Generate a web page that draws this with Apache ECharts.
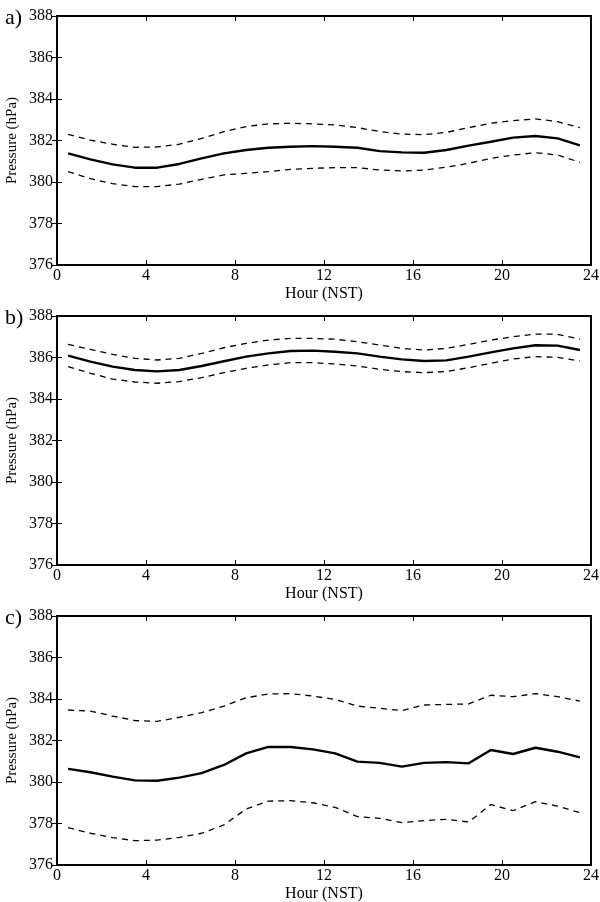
<!DOCTYPE html>
<html>
<head>
<meta charset="utf-8">
<script src="https://cdn.jsdelivr.net/npm/echarts@6/dist/echarts.min.js"></script>
<style>html,body{margin:0;padding:0;background:#fff}#c{width:600px;height:902px}</style>
</head>
<body>
<div id="c"></div>
<script>
var hours = [0.5,1.5,2.5,3.5,4.5,5.5,6.5,7.5,8.5,9.5,10.5,11.5,12.5,13.5,14.5,15.5,16.5,17.5,18.5,19.5,20.5,21.5,22.5,23.5];
var xTicks = [0,4,8,12,16,20,24];
var yTicks = [376,378,380,382,384,386,388];
var panelLabels = ['a)','b)','c)'];

var meanA  = [381.38,381.09,380.85,380.69,380.69,380.87,381.14,381.38,381.54,381.65,381.70,381.73,381.70,381.65,381.49,381.43,381.41,381.54,381.75,381.94,382.14,382.22,382.10,381.77];
var upperA = [382.30,382.02,381.82,381.67,381.69,381.82,382.10,382.43,382.67,382.80,382.83,382.80,382.75,382.62,382.43,382.31,382.28,382.39,382.62,382.83,382.96,383.04,382.91,382.62];
var lowerA = [380.50,380.16,379.92,379.78,379.78,379.90,380.13,380.34,380.42,380.50,380.61,380.66,380.69,380.69,380.58,380.53,380.58,380.71,380.90,381.14,381.30,381.41,381.30,380.95];

var meanB  = [386.09,385.80,385.56,385.40,385.33,385.40,385.59,385.82,386.04,386.20,386.31,386.33,386.28,386.20,386.04,385.91,385.83,385.86,386.04,386.25,386.44,386.59,386.57,386.36];
var upperB = [386.63,386.39,386.15,385.96,385.88,385.96,386.20,386.47,386.68,386.84,386.92,386.92,386.88,386.76,386.60,386.44,386.36,386.44,386.63,386.84,387.00,387.13,387.12,386.89];
var lowerB = [385.56,385.24,384.96,384.82,384.76,384.84,385.03,385.27,385.48,385.64,385.75,385.75,385.69,385.59,385.43,385.32,385.27,385.32,385.51,385.72,385.93,386.04,386.01,385.83];

var meanC  = [380.63,380.47,380.26,380.08,380.06,380.21,380.43,380.82,381.38,381.69,381.69,381.57,381.38,380.98,380.92,380.74,380.92,380.96,380.90,381.54,381.35,381.65,381.46,381.19];
var upperC = [383.47,383.42,383.18,382.96,382.92,383.12,383.34,383.66,384.06,384.24,384.26,384.14,383.98,383.66,383.55,383.44,383.71,383.74,383.76,384.18,384.11,384.26,384.11,383.90];
var lowerC = [377.80,377.53,377.32,377.17,377.20,377.33,377.53,377.93,378.70,379.08,379.10,379.00,378.78,378.33,378.25,378.04,378.14,378.20,378.07,378.91,378.62,379.05,378.84,378.52];

var panels = [[meanA,upperA,lowerA],[meanB,upperB,lowerB],[meanC,upperC,lowerC]];
var FONT = '"Liberation Serif", "DejaVu Serif", serif';
var tops = [16, 316, 616];

function pairs(v){ return hours.map(function(h,i){ return [h, v[i]]; }); }

var grid = [], xAxis = [], yAxis = [], series = [], title = [];
tops.forEach(function(t, p){
  grid.push({left:57, top:t, width:534, height:249, show:true, borderColor:'#000', borderWidth:2,
    backgroundColor:'#fff', containLabel:false, outerBoundsMode:'none'});
  title.push({text:panelLabels[p], left:0, top:t-14, textStyle:{fontFamily:FONT, fontSize:22, fontWeight:'normal', color:'#000'}});
  var common = {min:xTicks[0], max:xTicks[xTicks.length-1], interval:4, gridIndex:p, type:'value'};
  xAxis.push(Object.assign({}, common, {position:'bottom', name:'Hour (NST)', nameLocation:'middle', nameGap:21,
    nameMoveOverlap:false,
    nameTextStyle:{fontFamily:FONT, fontSize:16, color:'#000'},
    axisLine:{show:false}, axisTick:{inside:true, length:5, lineStyle:{color:'#000', width:1}},
    axisLabel:{fontFamily:FONT, fontSize:16, color:'#000', margin:3}, splitLine:{show:false}}));
  xAxis.push(Object.assign({}, common, {position:'top',
    axisLine:{show:false}, axisTick:{inside:true, length:5, lineStyle:{color:'#000', width:1}},
    axisLabel:{show:false}, splitLine:{show:false}}));
  var yc = {min:yTicks[0], max:yTicks[yTicks.length-1], interval:2, gridIndex:p, type:'value'};
  yAxis.push(Object.assign({}, yc, {position:'left', name:'Pressure (hPa)', nameLocation:'middle', nameGap:37,
    nameMoveOverlap:false,
    nameTextStyle:{fontFamily:FONT, fontSize:15, color:'#000'},
    axisLine:{show:false}, axisTick:{inside:true, length:5, lineStyle:{color:'#000', width:1}},
    axisLabel:{fontFamily:FONT, fontSize:16, color:'#000', margin:4}, splitLine:{show:false}}));
  yAxis.push(Object.assign({}, yc, {position:'right',
    axisLine:{show:false}, axisTick:{inside:true, length:5, lineStyle:{color:'#000', width:1}},
    axisLabel:{show:false}, splitLine:{show:false}}));
  var d = panels[p];
  series.push({type:'line', xAxisIndex:2*p, yAxisIndex:2*p, data:pairs(d[0]), symbol:'none', smooth:false,
    lineStyle:{color:'#000', width:2.4}, z:3});
  series.push({type:'line', xAxisIndex:2*p, yAxisIndex:2*p, data:pairs(d[1]), symbol:'none', smooth:false,
    lineStyle:{color:'#000', width:1.3, type:[6,5]}, z:2});
  series.push({type:'line', xAxisIndex:2*p, yAxisIndex:2*p, data:pairs(d[2]), symbol:'none', smooth:false,
    lineStyle:{color:'#000', width:1.3, type:[6,5]}, z:2});
});

var chart = echarts.init(document.getElementById('c'), null, {renderer:'canvas'});
chart.setOption({animation:false, backgroundColor:'#fff', title:title, grid:grid, xAxis:xAxis, yAxis:yAxis, series:series});
</script>
</body>
</html>
